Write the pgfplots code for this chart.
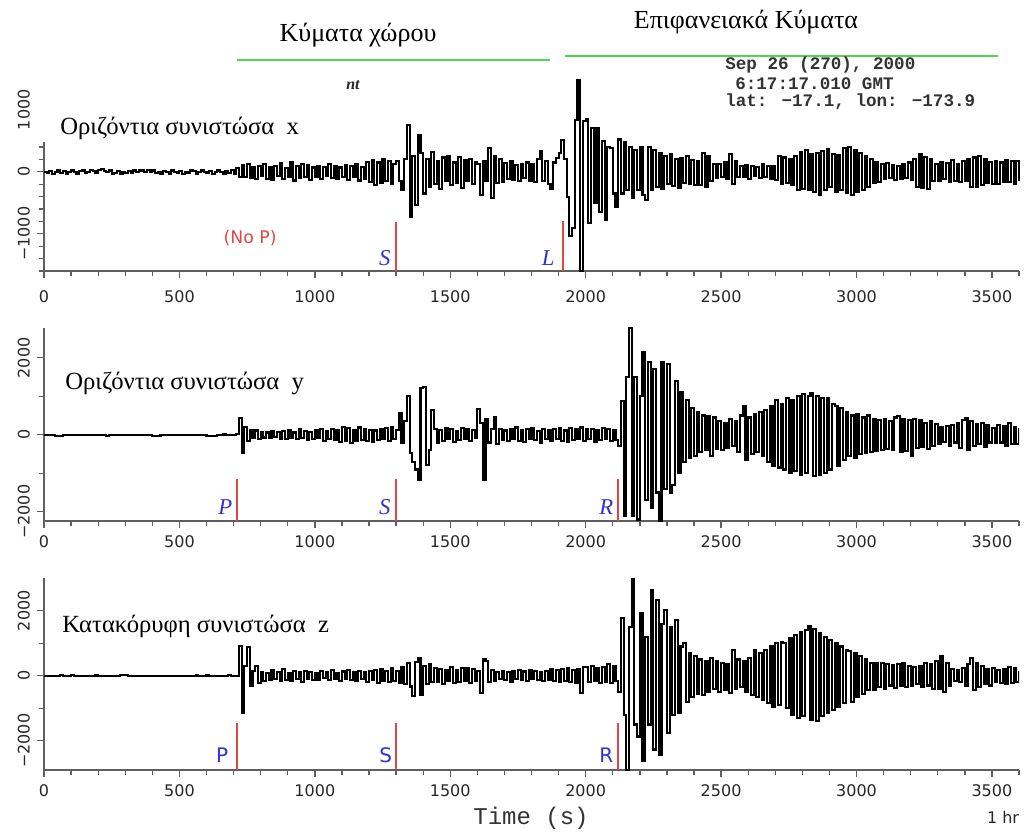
\documentclass[border=0pt]{standalone}
\usepackage{fontspec}
\usepackage{pgfplots}
\usepackage{pgfplotstable}
\pgfplotsset{compat=1.18}
\setmainfont{Liberation Serif}
\newfontfamily\dejavu{DejaVu Sans}
\newfontfamily\mono{Liberation Mono}
\definecolor{trgreen}{RGB}{80,215,80}
\definecolor{mkred}{RGB}{225,70,70}
\definecolor{mkblue}{RGB}{50,50,205}
\definecolor{axgray}{RGB}{95,95,95}

\pgfplotstableread{
t X Y Z
0 0 0 0
10 -20 0 0
20 10 0 0
30 -30 0 0
40 -10 -40 0
50 20 -40 0
60 -20 -30 30
70 10 0 0
80 -30 0 0
90 0 0 0
100 20 0 20
110 -10 0 0
120 -30 0 0
130 10 0 0
140 20 0 0
150 -20 0 0
160 0 0 0
170 30 0 0
180 10 0 0
190 -20 0 20
200 30 0 0
210 40 0 0
220 10 0 0
230 -10 -30 0
240 20 0 0
250 -30 0 0
260 -20 0 0
270 10 0 0
280 -30 0 30
290 0 0 30
300 -20 0 30
310 10 0 0
320 -20 0 0
330 20 0 0
340 -10 0 0
350 30 0 0
360 20 0 0
370 0 0 0
380 30 0 0
390 -10 0 0
400 20 -30 0
410 -20 -30 0
420 0 -30 0
430 -30 0 0
440 10 0 0
450 -10 0 0
460 -30 0 0
470 20 0 0
480 0 0 0
490 -20 0 0
500 10 0 0
510 -30 0 0
520 0 0 0
530 -20 0 0
540 20 0 0
550 10 0 0
560 -30 0 20
570 0 0 0
580 20 0 0
590 -10 0 0
600 -20 -40 30
610 10 -40 0
620 -30 -40 0
630 0 -40 0
640 20 0 0
650 -10 0 0
660 -30 20 0
670 10 0 0
680 -20 0 20
690 30 0 0
700 -40 0 0
710 60 20 0
720 -90 440 920
730 110 -470 -1150
740 -80 210 300
750 120 -160 880
760 -100 130 -320
770 70 -90 160
780 -120 110 310
790 90 -120 -220
800 -60 80 120
810 130 -70 -150
820 -110 60 90
830 80 -90 -120
840 -130 100 180
850 100 -60 -90
860 -70 70 110
870 140 -100 -160
880 -120 90 200
890 60 -110 -130
900 -90 130 90
910 150 -80 -170
920 -140 60 140
930 90 -120 -100
940 -100 150 120
950 120 -90 -190
960 -80 100 160
970 110 -130 -90
980 -130 70 110
990 70 -100 -140
1000 -90 120 80
1010 100 -80 -120
1020 -110 140 150
1030 80 -150 -80
1040 -60 90 100
1050 120 -120 -130
1060 -100 160 170
1070 90 -140 -110
1080 -120 110 90
1090 70 -180 -160
1100 -80 200 130
1110 110 -150 -100
1120 -130 170 190
1130 100 -210 -140
1140 -90 120 100
1150 130 -160 -170
1160 -140 190 150
1170 80 -130 -90
1180 -110 150 120
1190 160 -170 -200
1200 -170 130 160
1210 190 -190 -130
1220 -210 110 180
1230 150 -140 -230
1240 -180 160 200
1250 200 -120 -160
1260 -150 180 140
1270 170 -150 -190
1280 -190 200 230
1290 130 -110 -170
1300 180 120 150
1310 -150 570 -220
1320 -300 -200 280
1330 200 350 -250
1340 760 1000 380
1350 -720 -480 -330
1360 250 -700 -630
1370 -530 -900 420
1380 600 -1170 540
1390 300 1220 -580
1400 -350 1250 300
1410 200 -780 -250
1420 -250 -400 350
1430 320 650 -200
1440 -200 150 240
1450 180 -200 -180
1460 -280 130 220
1470 230 -150 -260
1480 -150 180 190
1490 260 -120 -150
1500 -220 160 280
1510 150 -190 -210
1520 -180 100 170
1530 240 -140 -190
1540 -260 170 230
1550 190 -110 -160
1560 -140 140 250
1570 210 -160 -230
1580 -190 120 200
1590 160 -90 -170
1600 120 670 150
1610 -370 300 -530
1620 180 -1170 500
1630 -150 400 450
1640 390 -200 -200
1650 -420 150 180
1660 250 470 -150
1670 -180 -250 120
1680 200 160 -100
1690 -160 -130 160
1700 140 110 -130
1710 -120 -170 110
1720 170 140 -180
1730 -130 -100 140
1740 110 190 -90
1750 -150 -150 170
1760 130 120 -120
1770 -100 -180 130
1780 150 150 -160
1790 -140 -120 190
1800 120 170 -110
1810 -170 -140 150
1820 200 100 -140
1830 330 -200 120
1840 -150 160 -170
1850 180 -110 160
1860 -200 130 -130
1870 -280 -160 200
1880 150 140 -150
1890 220 -120 180
1900 300 180 -190
1910 510 -150 220
1920 200 110 -160
1930 -400 -190 250
1940 -1040 170 -200
1950 -900 -130 170
1960 840 150 -230
1970 1480 -100 210
1980 -1600 190 -530
1990 820 -170 280
2000 850 140 260
2010 -830 -120 -190
2020 700 160 300
2030 -500 -180 -170
2040 700 130 240
2050 -650 -140 -210
2060 500 170 270
2070 -780 -110 -180
2080 400 150 350
2090 380 -160 -220
2100 -350 120 310
2110 -560 -130 -160
2120 520 -300 -500
2130 -350 870 1770
2140 480 -2120 -1200
2150 -300 1500 -2900
2160 400 2780 1500
2170 -420 -2100 3000
2180 350 1500 -1500
2190 -300 -2200 -1870
2200 400 1000 1940
2210 -380 2160 -2630
2220 -450 -1700 1200
2230 400 1900 -1500
2240 -300 -1900 2650
2250 350 1700 -2270
2260 -250 -1500 2340
2270 300 -2230 -2430
2280 -280 1900 1600
2290 250 -1400 2030
2300 -200 1850 -1760
2310 280 -1500 1500
2320 -230 -1300 -1200
2330 200 1400 1720
2340 -260 -1000 -1150
2350 220 1100 900
2360 -180 -700 1000
2370 250 900 -800
2380 -200 -600 700
2390 190 700 -650
2400 -220 -550 600
2410 170 600 -550
2420 -210 -450 500
2430 300 500 -600
2440 -250 -400 450
2450 260 480 -500
2460 -150 -560 550
2470 130 450 -400
2480 -100 -380 450
2490 120 350 -500
2500 -90 -400 400
2510 150 300 -450
2520 -120 -350 350
2530 280 400 -530
2540 -200 -300 800
2550 180 350 -400
2560 -80 -450 500
2570 100 500 -350
2580 -90 740 450
2590 110 -650 -500
2600 -120 450 550
2610 90 -500 -600
2620 -70 550 800
2630 80 -450 -650
2640 -100 600 700
2650 120 -550 -750
2660 -80 650 800
2670 100 -700 -850
2680 -110 750 900
2690 90 -800 -950
2700 -130 910 1000
2710 250 -850 -900
2720 -200 800 1050
2730 230 -900 1000
2740 -180 950 -1000
2750 200 -1000 1150
2760 -220 900 -1200
2770 260 -950 1250
2780 -300 1000 -1300
2790 320 -1050 1350
2800 -280 1050 -1250
2810 350 -1000 1400
2820 -300 1000 1520
2830 280 1080 -1350
2840 -330 -1080 1450
2850 300 1000 -1400
2860 -370 -1050 1300
2870 340 950 -1250
2880 -290 -1000 1200
2890 360 950 -1150
2900 -250 -900 1100
2910 290 800 -1050
2920 -320 740 1000
2930 270 -800 -950
2940 -300 700 900
2950 380 -650 -850
2960 -340 600 800
2970 400 -550 750
2980 -380 500 -800
2990 350 -600 700
3000 -330 550 -650
3010 300 -500 600
3020 -290 450 -550
3030 260 -480 500
3040 -250 500 -450
3050 200 -450 400
3060 -180 400 -450
3070 150 -420 400
3080 -160 380 -350
3090 130 -400 380
3100 -120 420 -420
3110 140 -380 350
3120 -100 350 -300
3130 110 -400 330
3140 -130 450 -380
3150 90 480 350
3160 -110 -450 -300
3170 120 400 400
3180 -100 -420 -350
3190 150 380 300
3200 -130 -560 -320
3210 200 400 280
3220 -250 -350 -250
3230 280 380 300
3240 -260 -320 -350
3250 240 300 380
3260 -280 -380 -300
3270 200 350 350
3280 -150 -300 -400
3290 120 280 450
3300 -140 -250 -420
3310 160 200 600
3320 -120 -180 -500
3330 140 220 400
3340 -170 -300 -300
3350 190 250 200
3360 -150 -200 -150
3370 130 300 180
3380 -160 -350 -200
3390 180 380 250
3400 -140 430 -300
3410 200 -400 350
3420 -250 350 550
3430 230 -300 -450
3440 -240 280 400
3450 260 -250 -350
3460 -220 300 300
3470 210 -320 -250
3480 -180 250 200
3490 160 -200 -300
3500 -190 180 250
3510 170 -220 -200
3520 -200 250 180
3530 150 -200 -220
3540 -170 220 200
3550 190 -280 -250
3560 -160 300 280
3570 180 -250 -230
3580 -200 200 250
3590 170 -230 -200
3600 -150 180 150
}\seisdata

\pgfplotsset{seis/.style={
  scale only axis, width=731.25pt, anchor=south west,
  xmin=0, xmax=3600,
  axis lines*=left,
  axis line style={draw=axgray, line width=1.4pt},
  tick align=outside, major tick length=5.5pt, minor tick length=3.5pt,
  tick style={draw=axgray, line width=1pt},
  xtick={0,500,...,3500},
  xticklabels={0,500,1000,1500,2000,2500,3000,3500},
  minor xtick={0,100,...,3600},
  tick label style={font=\dejavu\fontsize{12}{12}\selectfont, text=black!85},
  yticklabel style={rotate=90, anchor=south, inner ysep=5pt, inner xsep=0pt},
  xticklabel style={anchor=north, inner xsep=0pt},
  trace/.style={const plot, black, line width=1.6pt},
  mark line/.style={mkred, line width=1.1pt},
}}

\begin{document}
\begin{tikzpicture}
\useasboundingbox (0,0) rectangle (768pt,-624pt);

% ---------- panel 1 (x) ----------
\begin{axis}[seis, at={(33pt,-203.25pt)}, height=127.9pt,
  ymin=-1600, ymax=1150, clip=false,
  ytick={-1000,0,1000}, yticklabels={−1000,0,1000},
  minor ytick={-1600,-1400,...,1000},
  xticklabel style={inner ysep=9pt}]
\addplot[trace] table[x=t,y=X]{\seisdata};
\addplot[mark line] coordinates {(1300,-1600) (1300,-806)};
\addplot[mark line] coordinates {(1917,-1600) (1917,-790)};
\node[text=mkred, font=\dejavu\fontsize{13}{13}\selectfont] at (axis cs:761,-1065) {(No P)};
\node[text=mkblue, font=\itshape\fontsize{17}{17}\selectfont] at (axis cs:1258,-1387) {S};
\node[text=mkblue, font=\itshape\fontsize{17}{17}\selectfont] at (axis cs:1862,-1387) {L};
\end{axis}

% ---------- panel 2 (y) ----------
\begin{axis}[seis, at={(33pt,-390.75pt)}, height=144.9pt,
  ymin=-2240, ymax=2780,
  ytick={-2000,0,2000}, yticklabels={−2000,0,2000},
  minor ytick={-2000,-1000,...,2000},
  xticklabel style={inner ysep=5.5pt}]
\addplot[trace] table[x=t,y=Y]{\seisdata};
\addplot[mark line] coordinates {(713,-2240) (713,-1143)};
\addplot[mark line] coordinates {(1300,-2240) (1300,-1143)};
\addplot[mark line] coordinates {(2120,-2240) (2120,-1143)};
\node[text=mkblue, font=\itshape\fontsize{17}{17}\selectfont] at (axis cs:669,-1870) {P};
\node[text=mkblue, font=\itshape\fontsize{17}{17}\selectfont] at (axis cs:1258,-1870) {S};
\node[text=mkblue, font=\itshape\fontsize{17}{17}\selectfont] at (axis cs:2076,-1870) {R};
\end{axis}

% ---------- panel 3 (z) ----------
\begin{axis}[seis, at={(33pt,-577.5pt)}, height=143.8pt,
  ymin=-2900, ymax=3000,
  ytick={-2000,0,2000}, yticklabels={−2000,0,2000},
  minor ytick={-2000,-1000,...,2000},
  xticklabel style={inner ysep=5.5pt}]
\addplot[trace] table[x=t,y=Z]{\seisdata};
\addplot[mark line] coordinates {(713,-2900) (713,-1446)};
\addplot[mark line] coordinates {(1300,-2900) (1300,-1446)};
\addplot[mark line] coordinates {(2120,-2900) (2120,-1446)};
\node[text=mkblue, font=\dejavu\fontsize{15}{15}\selectfont] at (axis cs:658,-2431) {P};
\node[text=mkblue, font=\dejavu\fontsize{15}{15}\selectfont] at (axis cs:1262,-2431) {S};
\node[text=mkblue, font=\dejavu\fontsize{15}{15}\selectfont] at (axis cs:2076,-2431) {R};
\end{axis}

% ---------- annotations ----------
\fill[white] (26.25pt,-75pt) rectangle (243.75pt,-106.5pt);
\node[anchor=west, inner sep=0pt, font=\fontsize{18.5}{19}\selectfont] at (45pt,-96pt) {Οριζόντια συνιστώσα~~x};
\node[anchor=west, inner sep=0pt, font=\fontsize{18.5}{19}\selectfont] at (48.75pt,-287.25pt) {Οριζόντια συνιστώσα~~y};
\node[anchor=west, inner sep=0pt, font=\fontsize{18.5}{19}\selectfont] at (46.5pt,-469.5pt) {Κατακόρυφη συνιστώσα~~z};

\node[font=\fontsize{19.5}{20}\selectfont] at (268.5pt,-26.25pt) {Κύματα χώρου};
\node[font=\fontsize{19.5}{20}\selectfont] at (559.5pt,-16.5pt) {Επιφανειακά Κύματα};
\draw[trgreen, line width=1.6pt] (177.75pt,-45pt) -- (412.5pt,-45pt);
\draw[trgreen, line width=1.6pt] (423.75pt,-42pt) -- (748.5pt,-42pt);

\node[anchor=west, inner sep=0pt, text=black!80, font=\mono\bfseries\fontsize{13.2}{13.2}\selectfont] at (543.75pt,-48.5pt) {Sep 26 (270), 2000};
\node[anchor=west, inner sep=0pt, text=black!80, font=\mono\bfseries\fontsize{13.2}{13.2}\selectfont] at (551.25pt,-62.5pt) {6:17:17.010 GMT};
\node[anchor=west, inner sep=0pt, text=black!80, font=\mono\bfseries\fontsize{13.2}{13.2}\selectfont] at (543.75pt,-76.5pt) {lat: −17.1, lon: −173.9};
\node[text=black!85, font=\bfseries\itshape\fontsize{12}{12}\selectfont] at (264.75pt,-63.75pt) {nt};

\node[text=black!80, font=\mono\fontsize{18}{18}\selectfont] at (398.25pt,-613.5pt) {Time (s)};
\node[text=black!85, font=\dejavu\fontsize{12}{12}\selectfont] at (752.25pt,-612.75pt) {1 hr};
\end{tikzpicture}
\end{document}
